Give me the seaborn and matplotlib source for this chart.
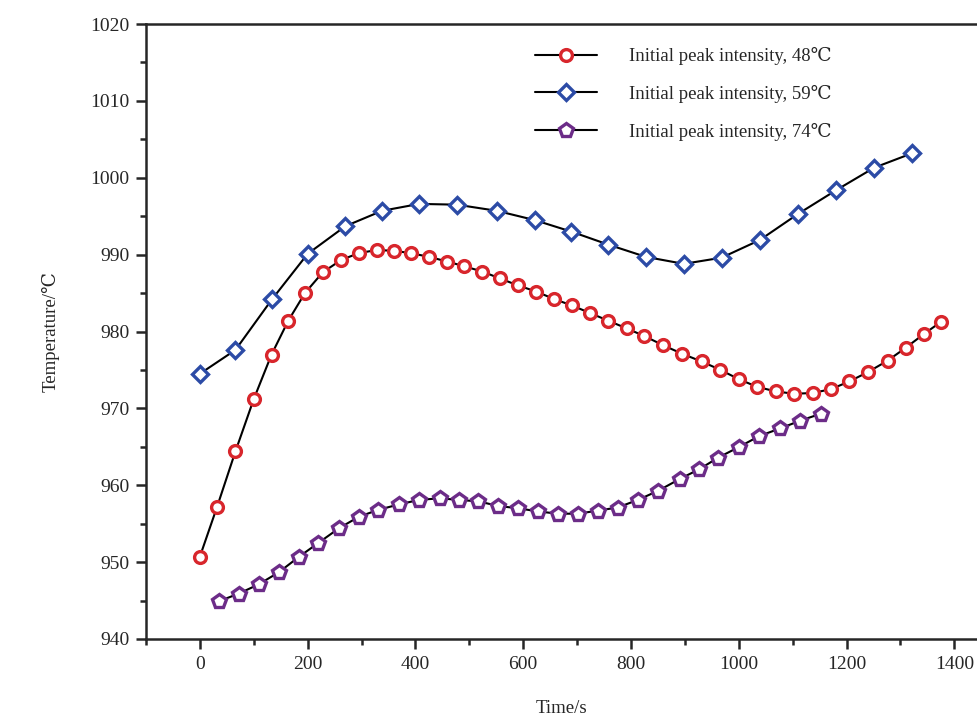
import matplotlib
matplotlib.use("Agg")
import matplotlib.pyplot as plt
from matplotlib.ticker import MultipleLocator
import seaborn as sns
import pandas as pd

# ── Data ─────────────────────────────────────────────────────────────────────
t_48 = [0, 32, 66, 100, 133, 164, 195, 228, 262, 295, 328, 360, 391, 426,
        459, 490, 524, 557, 590, 624, 658, 690, 724, 758, 792, 825, 860, 895,
        931, 966, 1000, 1034, 1069, 1103, 1137, 1171, 1205, 1239, 1276, 1310,
        1344, 1376]
T_48 = [950.7, 957.2, 964.4, 971.2, 977.0, 981.4, 985.0, 987.7, 989.3, 990.2,
        990.6, 990.5, 990.2, 989.7, 989.1, 988.5, 987.8, 986.9, 986.0, 985.2,
        984.2, 983.4, 982.4, 981.4, 980.4, 979.4, 978.2, 977.1, 976.1, 975.0,
        973.8, 972.8, 972.2, 971.9, 972.0, 972.5, 973.5, 974.7, 976.2, 977.9,
        979.7, 981.3]

t_59 = [0, 66, 134, 200, 270, 338, 407, 477, 551, 621, 689, 758, 828, 898,
        968, 1039, 1110, 1181, 1251, 1322]
T_59 = [974.5, 977.6, 984.2, 990.1, 993.7, 995.7, 996.6, 996.5, 995.7, 994.5,
        993.0, 991.3, 989.7, 988.8, 989.6, 991.9, 995.3, 998.4, 1001.3, 1003.2]

t_74 = [35, 72, 109, 147, 184, 220, 258, 295, 331, 369, 407, 445, 480, 517,
        554, 591, 627, 664, 702, 738, 775, 813, 851, 890, 927, 962, 1001, 1038,
        1077, 1114, 1152]
T_74 = [944.9, 945.9, 947.1, 948.7, 950.7, 952.5, 954.4, 955.9, 956.8, 957.5,
        958.1, 958.3, 958.1, 957.9, 957.3, 957.0, 956.6, 956.3, 956.3, 956.7,
        957.1, 958.1, 959.3, 960.8, 962.1, 963.6, 965.0, 966.4, 967.4, 968.4,
        969.3]

labels = ["Initial peak intensity, 48℃",
          "Initial peak intensity, 59℃",
          "Initial peak intensity, 74℃"]

# ── Style ────────────────────────────────────────────────────────────────────
sns.set_style("ticks")
plt.rcParams["font.family"] = ["Liberation Serif", "DejaVu Serif", "Noto Sans CJK SC"]
plt.rcParams["font.size"] = 13

series = [
    (t_48, T_48, labels[0], "o", "#D8262C", 8.5),
    (t_59, T_59, labels[1], "D", "#2C4BA6", 8.5),
    (t_74, T_74, labels[2], "p", "#6C2C88", 10),
]

fig = plt.figure(figsize=(9.77, 7.17), dpi=100)
ax = fig.add_axes([0.1494, 0.1088, 0.8506, 0.8577])

for t, T, lab, mk, col, ms in series:
    df = pd.DataFrame({"t": t, "T": T})
    sns.lineplot(data=df, x="t", y="T", ax=ax, color="black", linewidth=1.5,
                 marker=mk, markersize=ms, markerfacecolor="white",
                 markeredgecolor=col, markeredgewidth=2.4, label=lab)

ax.set_xlim(-100, 1442)
ax.set_ylim(940, 1020)
ax.xaxis.set_major_locator(MultipleLocator(200))
ax.xaxis.set_minor_locator(MultipleLocator(100))
ax.yaxis.set_major_locator(MultipleLocator(10))
ax.yaxis.set_minor_locator(MultipleLocator(5))
ax.set_xticks(range(0, 1401, 200))
ax.tick_params(which="major", direction="out", length=7, width=1.8,
               labelsize=14, pad=5)
ax.tick_params(which="minor", direction="out", length=4.5, width=1.8)
ax.tick_params(axis="x", which="both", top=False)

for s in ["left", "bottom", "top"]:
    ax.spines[s].set_linewidth(1.8)
ax.spines["right"].set_visible(False)

ax.set_xlabel("Time/s", fontsize=13.5, labelpad=20)
ax.set_ylabel("Temperature/℃", fontsize=13.5, labelpad=22)

ax.legend(loc="upper left", bbox_to_anchor=(0.448, 0.99), frameon=False,
          handlelength=3.3, handletextpad=1.7, labelspacing=1.05, fontsize=13.5)

fig.savefig("out.png", dpi=100, facecolor="white")
